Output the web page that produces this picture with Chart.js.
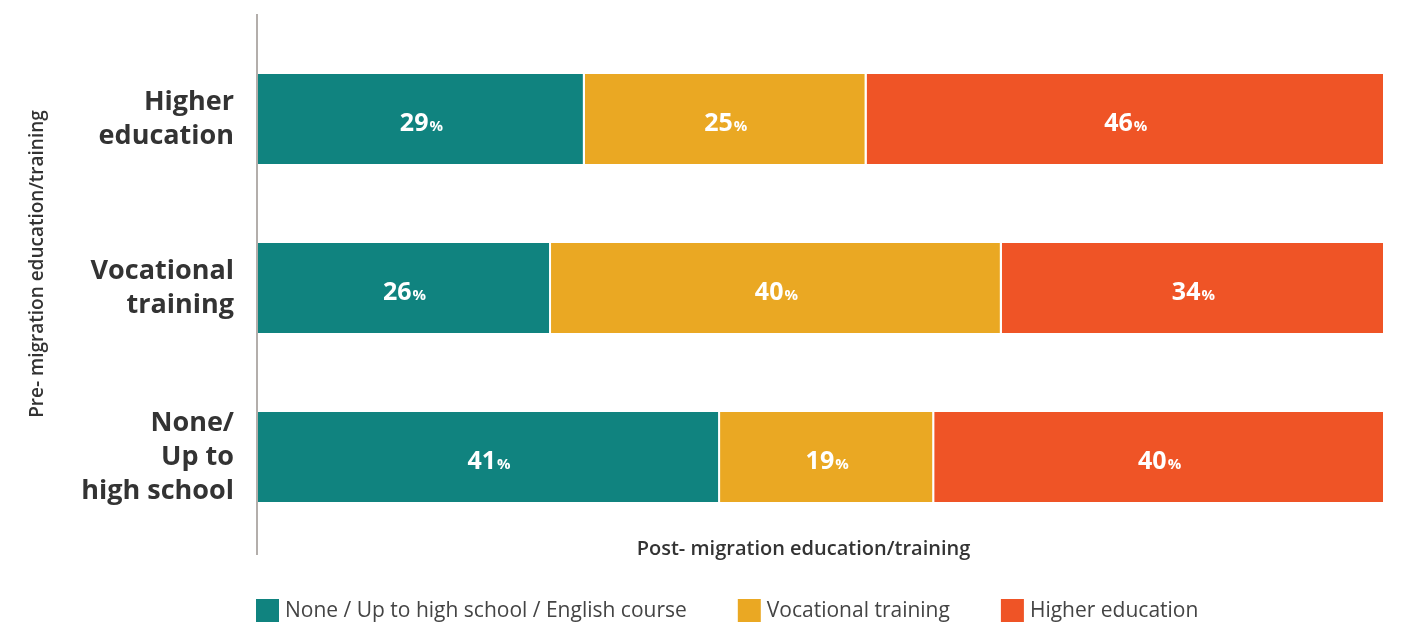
<!DOCTYPE html>
<html lang="en">
<head>
<meta charset="UTF-8">
<title>Pre- and post-migration education/training</title>
<script src="https://cdn.jsdelivr.net/npm/chart.js"></script>
<style>
  html, body { margin: 0; padding: 0; background: #fff; }
  #wrap { width: 1404px; height: 625px; position: relative; }
</style>
</head>
<body>
<div id="wrap"><canvas id="eduChart"></canvas></div>
<script>
  // rows: education before migration
  const categories = [['Higher', 'education'], ['Vocational', 'training'], ['None/', 'Up to', 'high school']];
  // stacked shares (%) per row, by education after migration
  const seriesNames = ['None / Up to high school / English course', 'Vocational training', 'Higher education'];
  const noneShares = [29, 26, 41];
  const vocationalShares = [25, 40, 19];
  const higherShares = [46, 34, 40];
  const seriesColors = ['#10837f', '#eaa823', '#ef5426'];
  const yTitle = 'Pre- migration education/training';
  const xTitle = 'Post- migration education/training';

  const FONT = '"Open Sans", Lato, sans-serif';
  const TEXT = '#333333';

  // value labels, axis line, titles and legend
  const extras = {
    id: 'extras',
    afterDatasetsDraw(chart) {
      const ctx = chart.ctx;
      ctx.save();
      ctx.fillStyle = '#ffffff';
      ctx.textAlign = 'left';
      ctx.textBaseline = 'alphabetic';
      chart.data.datasets.forEach((ds, i) => {
        chart.getDatasetMeta(i).data.forEach((bar, j) => {
          const {x, y} = bar.getCenterPoint();
          const num = String(ds.data[j]);
          ctx.font = `bold 25px ${FONT}`;
          const w1 = ctx.measureText(num).width;
          ctx.font = `bold 15px ${FONT}`;
          const w2 = ctx.measureText('%').width;
          const start = x - (w1 + 1 + w2) / 2;
          ctx.font = `bold 25px ${FONT}`;
          ctx.fillText(num, start, y + 12);
          ctx.font = `bold 15px ${FONT}`;
          ctx.fillText('%', start + w1 + 1, y + 12);
        });
      });
      ctx.restore();
    },
    afterDraw(chart) {
      const ctx = chart.ctx;
      const area = chart.chartArea;
      ctx.save();

      // vertical axis line, runs a bit past the plot
      ctx.strokeStyle = '#b3aeab';
      ctx.lineWidth = 2;
      ctx.beginPath();
      ctx.moveTo(area.left - 1, 14);
      ctx.lineTo(area.left - 1, 555);
      ctx.stroke();

      // axis titles
      ctx.fillStyle = TEXT;
      ctx.font = `600 20px ${FONT}`;
      ctx.textAlign = 'center';
      ctx.textBaseline = 'alphabetic';
      ctx.fillText(xTitle, (area.left + area.right) / 2 - 18, 555);

      ctx.save();
      ctx.translate(38, 264);
      ctx.rotate(-Math.PI / 2);
      ctx.font = `600 19px ${FONT}`;
      ctx.textBaseline = 'middle';
      ctx.fillText(yTitle, 0, 0);
      ctx.restore();

      // legend
      ctx.font = `21px ${FONT}`;
      ctx.textAlign = 'left';
      let lx = 256;
      chart.data.datasets.forEach(ds => {
        ctx.fillStyle = ds.backgroundColor;
        ctx.fillRect(lx, 599, 23, 23);
        ctx.fillStyle = '#444444';
        ctx.fillText(ds.label, lx + 29, 617);
        lx += 29 + ctx.measureText(ds.label).width + 51;
      });

      ctx.restore();
    }
  };

  const shares = [noneShares, vocationalShares, higherShares];

  new Chart(document.getElementById('eduChart'), {
    type: 'bar',
    data: {
      labels: categories,
      datasets: seriesNames.map((name, i) => ({
        label: name,
        data: shares[i],
        backgroundColor: seriesColors[i],
        borderColor: '#ffffff',
        borderWidth: { top: 0, bottom: 0, left: 0, right: 2 },
        borderSkipped: false,
        barPercentage: 0.533,
        categoryPercentage: 1
      }))
    },
    options: {
      indexAxis: 'y',
      responsive: true,
      maintainAspectRatio: false,
      animation: false,
      layout: { padding: { top: 34.5, right: 19, bottom: 83.5, left: 0 } },
      plugins: {
        legend: { display: false },
        tooltip: { enabled: false }
      },
      scales: {
        x: {
          stacked: true,
          min: 0,
          max: 100,
          display: false
        },
        y: {
          stacked: true,
          afterFit(scale) {
            scale.width = 258;
            scale.paddingTop = 0;
            scale.paddingBottom = 0;
          },
          border: { display: false },
          grid: { display: false, drawTicks: false },
          ticks: {
            padding: 24,
            color: TEXT,
            font: { family: FONT, size: 27, weight: 'bold', lineHeight: 34 / 27 }
          }
        }
      }
    },
    plugins: [extras]
  });
</script>
</body>
</html>
